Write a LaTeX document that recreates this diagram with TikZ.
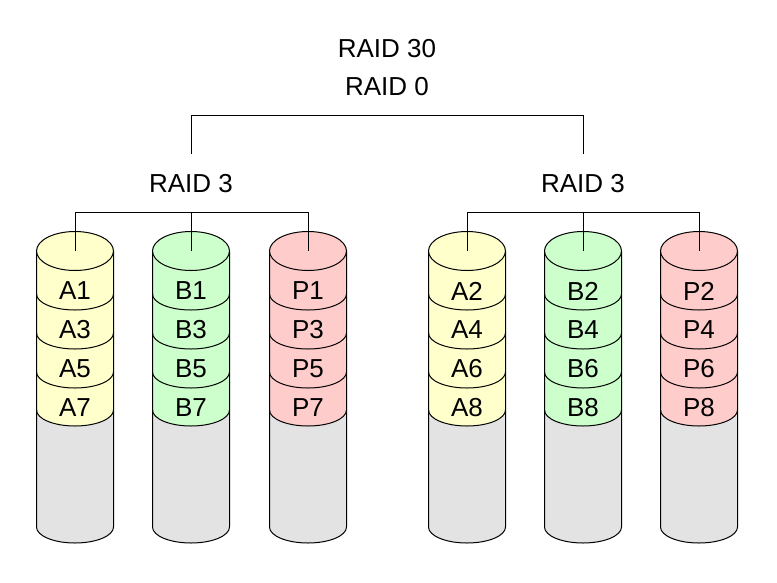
\documentclass[tikz,border=0pt]{standalone}
\usepackage{fontspec}
\setmainfont{Liberation Sans}
\definecolor{diskyellow}{RGB}{255,255,204}
\definecolor{diskgreen}{RGB}{204,255,204}
\definecolor{diskred}{RGB}{255,204,204}
\definecolor{diskgray}{RGB}{227,227,227}
\tikzset{
  raidlabel/.style={font=\fontsize{26}{31}\selectfont, inner sep=0pt},
  diskline/.style={draw=black, line width=1pt},
}
\begin{document}
\begin{tikzpicture}[x=1pt,y=1pt]
    \useasboundingbox[fill=white] (0,0) rectangle (777,-582);
    \node[raidlabel] (raid30) at (387,-49) {RAID 30};
    \node[raidlabel] (raid0) at (387,-87) {RAID 0};
    \node[raidlabel] (raid3l) at (191,-184) {RAID 3};
    \node[raidlabel] (raid3r) at (583,-184) {RAID 3};
    % disks
    \foreach \name/\cx/\col/\ltr/\n in {la/75/diskyellow/A/1, lb/191/diskgreen/B/1,
        lp/308/diskred/P/1, ra/467/diskyellow/A/2, rb/583/diskgreen/B/2, rp/699/diskred/P/2} {
        \coordinate (\name) at (\cx,-251);
        \fill[diskgray] (\cx-38.5,-251) -- (\cx-38.5,-527)
            arc[start angle=180, end angle=360, x radius=38.5pt, y radius=16pt] -- (\cx+38.5,-251) -- cycle;
        \fill[\col] (\cx-38.5,-251) -- (\cx-38.5,-410)
            arc[start angle=180, end angle=360, x radius=38.5pt, y radius=16pt] -- (\cx+38.5,-251) -- cycle;
        \draw[diskline] (\cx-38.5,-251) -- (\cx-38.5,-527)
            arc[start angle=180, end angle=360, x radius=38.5pt, y radius=16pt] -- (\cx+38.5,-251);
        \foreach \e in {294,333,372,410}
            \draw[diskline] (\cx-38.5,-\e) arc[start angle=180, end angle=360, x radius=38.5pt, y radius=16pt];
        \filldraw[diskline, fill=\col] (\name) ellipse [x radius=38.5pt, y radius=19.5pt];
        \foreach \k [evaluate=\k as \num using int(\n+2*\k)] in {0,1,2,3}
            \node[raidlabel] (\name-\k) at (\cx,-291-39*\k) {\ltr\num};
    }
    % tree
    \coordinate (topl) at (191,-115);
    \coordinate (topr) at (583,-115);
    \coordinate (midl) at (191,-154);
    \coordinate (midr) at (583,-154);
    \coordinate (lbus) at (191,-212);
    \coordinate (rbus) at (583,-212);
    \draw[diskline] (midl) -- (topl) -- (topr) -- (midr);
    \draw[diskline] (la) -- (la |- lbus) -- (lp |- lbus) -- (lp);
    \draw[diskline] (lbus) -- (lb);
    \draw[diskline] (ra) -- (ra |- rbus) -- (rp |- rbus) -- (rp);
    \draw[diskline] (rbus) -- (rb);
\end{tikzpicture}
\end{document}
